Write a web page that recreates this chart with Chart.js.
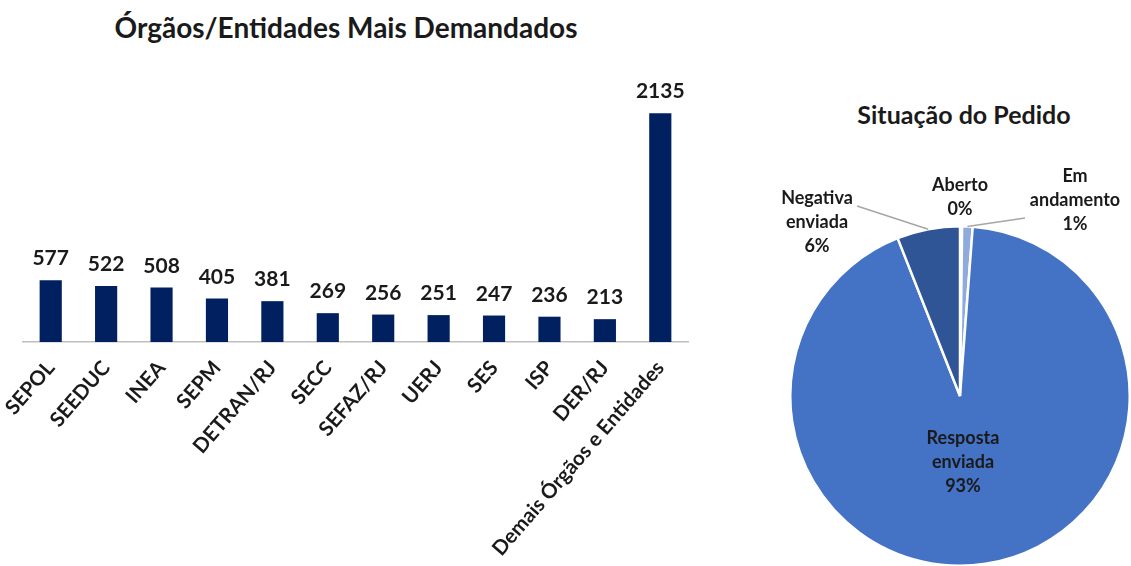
<!DOCTYPE html>
<html lang="pt-BR">
<head>
<meta charset="utf-8">
<script src="https://cdn.jsdelivr.net/npm/chart.js@4"></script>
<style>
  html, body { margin: 0; padding: 0; background: #fff; overflow: hidden; }
  #wrap { position: relative; width: 1131px; height: 566px; overflow: hidden; font-family: Lato, "Open Sans", sans-serif; }
  .titulo { position: absolute; font-weight: bold; color: #1a1a1a; text-align: center; white-space: nowrap; }
  #tituloBarras { left: 0; width: 692px; top: 10px; font-size: 28px; }
  #tituloPizza { left: 800px; width: 328px; top: 99px; font-size: 25px; }
  canvas { position: absolute; top: 0; }
  #barras { left: 0; }
  #pizza { left: 700px; }
</style>
</head>
<body>
<div id="wrap">
  <div class="titulo" id="tituloBarras">Órgãos/Entidades Mais Demandados</div>
  <div class="titulo" id="tituloPizza">Situação do Pedido</div>
  <canvas id="barras" width="700" height="566"></canvas>
  <canvas id="pizza" width="431" height="570"></canvas>
</div>
<script>
// ===== dados =====
const orgaos = ['SEPOL', 'SEEDUC', 'INEA', 'SEPM', 'DETRAN/RJ', 'SECC', 'SEFAZ/RJ', 'UERJ', 'SES', 'ISP', 'DER/RJ', 'Demais Órgãos e Entidades'];
const pedidos = [577, 522, 508, 405, 381, 269, 256, 251, 247, 236, 213, 2135];

const situacoes = ['Aberto', 'Em andamento', 'Resposta enviada', 'Negativa enviada'];
const situacaoPct = [0.2, 1, 93, 6];
const situacaoCores = ['#1f3864', '#8faadc', '#4472c4', '#2f5597'];

const corTexto = '#1a1a1a';
const fonte = 'Lato, "Open Sans", sans-serif';

// rótulos de valor acima das barras
const rotulosBarras = {
    id: 'rotulosBarras',
    afterDatasetsDraw(chart) {
        const ctx = chart.ctx;
        const meta = chart.getDatasetMeta(0);
        ctx.save();
        ctx.font = 'bold 21px ' + fonte;
        ctx.fillStyle = corTexto;
        ctx.textAlign = 'center';
        ctx.textBaseline = 'alphabetic';
        meta.data.forEach((bar, i) => {
            ctx.fillText(String(pedidos[i]), bar.x, bar.y - 15);
        });
        ctx.restore();
    }
};

new Chart(document.getElementById('barras'), {
    type: 'bar',
    data: {
        labels: orgaos,
        datasets: [{
            data: pedidos,
            backgroundColor: '#002060',
            categoryPercentage: 1,
            barPercentage: 0.4
        }]
    },
    options: {
        responsive: false,
        animation: false,
        layout: { padding: { top: 74, left: 23, right: 12, bottom: 0 } },
        plugins: { legend: { display: false }, tooltip: { enabled: false } },
        scales: {
            y: { display: false, min: 0, max: 2500 },
            x: {
                grid: { display: false },
                border: { display: true, color: '#bfbfbf', width: 1.5 },
                ticks: {
                    color: corTexto,
                    font: { family: fonte, size: 20.5, weight: 'bold' },
                    maxRotation: 49,
                    minRotation: 49,
                    autoSkip: false,
                    padding: 6
                },
                afterFit(scale) {
                    scale.height = 224;
                    scale.paddingLeft = 0;
                    scale.paddingRight = 0;
                }
            }
        }
    },
    plugins: [rotulosBarras]
});

// posição dos rótulos da pizza (relativa ao centro) e pontos das linhas guia
const posRotulos = [
    { dx: 0, dy: -199 },
    { dx: 115, dy: -196, guia: { dx: 65, dy: -178 } },
    { dx: 3, dy: 66 },
    { dx: -143, dy: -174, guia: { dx: -103, dy: -190 } }
];
const linhasRotulos = [['Aberto'], ['Em', 'andamento'], ['Resposta', 'enviada'], ['Negativa', 'enviada']];

const rotulosPizza = {
    id: 'rotulosPizza',
    afterDatasetsDraw(chart) {
        const ctx = chart.ctx;
        const meta = chart.getDatasetMeta(0);
        const total = situacaoPct.reduce((a, b) => a + b, 0);
        ctx.save();
        meta.data.forEach((arc, i) => {
            const pos = posRotulos[i];
            const cx = arc.x, cy = arc.y;
            if (pos.guia) {
                const meio = (arc.startAngle + arc.endAngle) / 2;
                ctx.beginPath();
                ctx.strokeStyle = '#a6a6a6';
                ctx.lineWidth = 1.5;
                ctx.moveTo(cx + Math.cos(meio) * arc.outerRadius, cy + Math.sin(meio) * arc.outerRadius);
                ctx.lineTo(cx + pos.guia.dx, cy + pos.guia.dy);
                ctx.stroke();
            }
            const linhas = linhasRotulos[i].concat([Math.round(situacaoPct[i] / total * 100) + '%']);
            ctx.font = 'bold 18px ' + fonte;
            ctx.fillStyle = corTexto;
            ctx.textAlign = 'center';
            ctx.textBaseline = 'middle';
            const y0 = cy + pos.dy - (linhas.length - 1) * 12;
            linhas.forEach((t, k) => ctx.fillText(t, cx + pos.dx, y0 + k * 24));
        });
        ctx.restore();
    }
};

new Chart(document.getElementById('pizza'), {
    type: 'pie',
    data: {
        labels: situacoes,
        datasets: [{
            data: situacaoPct,
            backgroundColor: situacaoCores,
            borderColor: '#ffffff',
            borderWidth: 2.5
        }]
    },
    options: {
        responsive: false,
        animation: false,
        layout: { padding: { top: 225, left: 89, right: 0, bottom: 3 } },
        plugins: { legend: { display: false }, tooltip: { enabled: false } }
    },
    plugins: [rotulosPizza]
});
</script>
</body>
</html>
